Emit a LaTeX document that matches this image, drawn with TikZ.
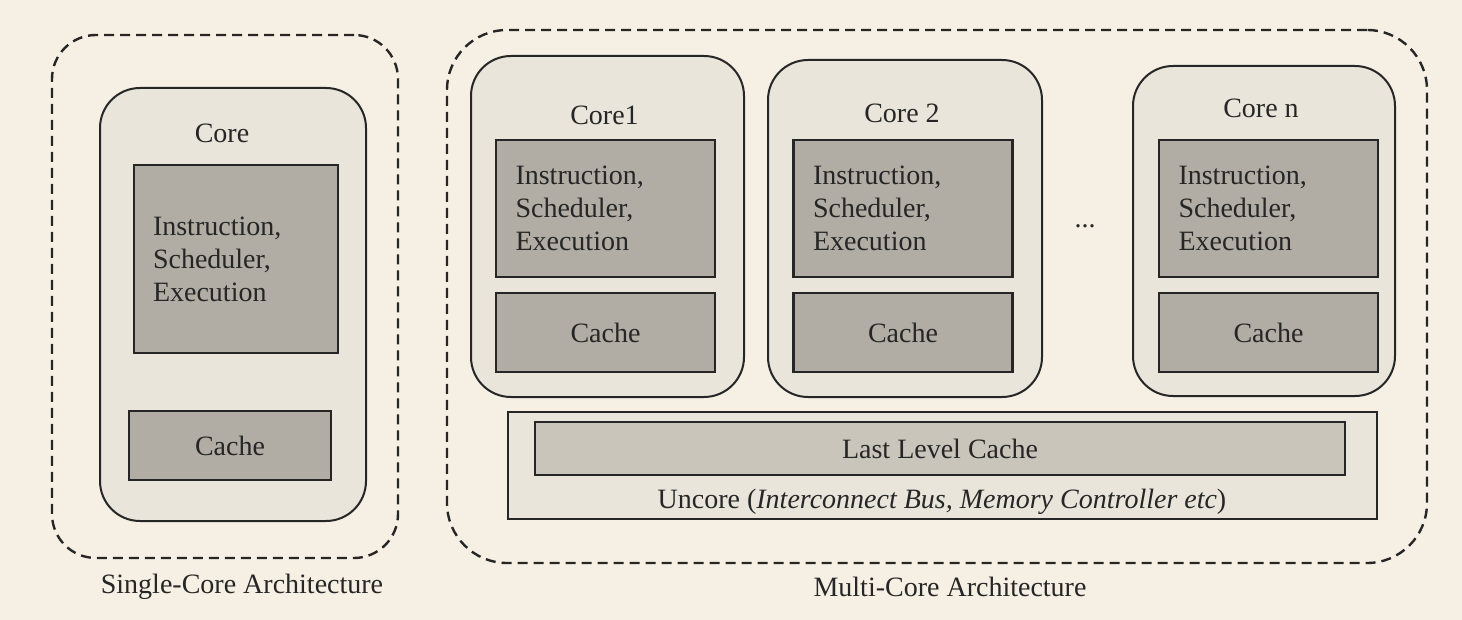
\documentclass[tikz,border=0pt]{standalone}
\usepackage{fontspec}
\setmainfont{Liberation Serif}
\usetikzlibrary{positioning}

\definecolor{bgcream}{HTML}{F6F0E4}
\definecolor{corefill}{HTML}{E9E5DB}
\definecolor{unitfill}{HTML}{B1ADA4}
\definecolor{llcfill}{HTML}{C9C5BA}
\definecolor{edge}{HTML}{262626}

\tikzset{
  archbox/.style={draw=edge, line width=1.2pt, dash pattern=on 5pt off 3pt, inner sep=0pt},
  corebox/.style={draw=edge, line width=1pt, fill=corefill, rounded corners=20pt, inner sep=0pt},
  unitbox/.style={draw=edge, line width=1.2pt, fill=unitfill, inner sep=0pt},
  lbl/.style={text=edge, font=\fontsize{14}{16.5}\selectfont},
}

\begin{document}
\begin{tikzpicture}[x=0.5pt, y=-0.5pt]
  % Background and bounding box
  \fill[bgcream] (0,0) rectangle (1462,620);
  \useasboundingbox (0,0) rectangle (1462,620);

  % Single-core architecture
  \node[archbox, rounded corners=22pt, minimum width=173pt, minimum height=261.5pt] (single) at (225,296.5) {};
  \node[corebox, minimum width=133pt, minimum height=216.5pt] (score) at (233,304.5) {};
  \node[lbl] (scoretitle) at (222,133) {Core};
  \node[unitbox, lbl, minimum height=94pt, text width=83pt, inner xsep=9.5pt, align=left] (sise) at (236,259)
    {Instruction,\\Scheduler,\\Execution};
  \node[unitbox, lbl, minimum width=101pt, minimum height=34.5pt] (scache) at (230,445.5) {Cache};
  \node[lbl] (singlecap) at (242,587) {Single-Core Architecture};

  % Multi-core architecture
  \node[archbox, rounded corners=30pt, minimum width=490pt, minimum height=266.5pt] (multi) at (937,296.5) {};
  \foreach \nm/\cx/\cy/\w/\h/\ix/\ty/\txt in {c1/607.5/226.5/136.5/170.5/605.5/115/Core1,
      c2/905/228.5/137/168.5/903/113/Core 2, cn/1264/231/131/165/1268.5/108/Core n} {
    \node[corebox, minimum width=\w pt, minimum height=\h pt] (\nm) at (\cx,\cy) {};
    \node[lbl] (\nm title) at (\cx-3,\ty) {\txt};
    \node[unitbox, lbl, minimum height=68.5pt, text width=90pt, inner xsep=9.75pt, align=left] (\nm ise) at (\ix,208.5)
      {Instruction,\\Scheduler,\\Execution};
    \node[unitbox, lbl, minimum width=109.5pt, minimum height=39.5pt] (\nm cache) at (\ix,332.5) {Cache};
  }
  \node[lbl] (dots) at (1085,226) {...};

  % Uncore and last level cache
  \node[draw=edge, line width=1.1pt, fill=corefill, minimum width=434.5pt, minimum height=53.5pt, inner sep=0pt] (uncore) at (942.5,465.5) {};
  \node[unitbox, fill=llcfill, lbl, minimum width=405pt, minimum height=26.5pt] (llc) at (940,448.5) {Last Level Cache};
  \node[lbl] (uncoretxt) at (942,502) {Uncore (\textit{Interconnect Bus, Memory Controller etc})};
  \node[lbl] (multicap) at (950,587) {Multi-Core Architecture};
\end{tikzpicture}
\end{document}
